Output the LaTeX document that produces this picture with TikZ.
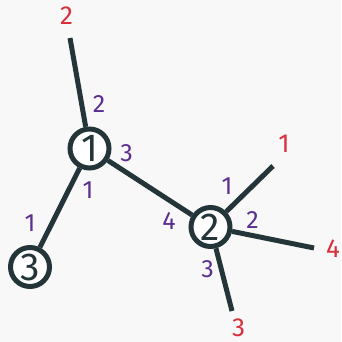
\documentclass[tikz,border=0pt]{standalone}
\usepackage{fontspec}
\setmainfont{Fira Sans}
\definecolor{edgecol}{HTML}{233538}
\definecolor{endcol}{HTML}{D7303B}
\definecolor{portcol}{HTML}{5B2E8F}
\definecolor{bgcol}{HTML}{F8F8F8}
\tikzset{
  vertex/.style={circle, draw=edgecol, line width=5pt, fill=white, minimum size=39pt, inner sep=0pt,
    text=edgecol, font=\fontsize{39}{39}\selectfont},
  link/.style={draw=edgecol, line width=5pt},
  endlbl/.style={text=endcol, font=\fontsize{26}{26}\selectfont, inner sep=0pt},
  portlbl/.style={text=portcol, font=\fontsize{25}{25}\selectfont, inner sep=0pt}
}
\begin{document}
\begin{tikzpicture}[x=1pt, y=-1pt]
  \fill[bgcol] (0,0) rectangle (341,342);
  \useasboundingbox (0,0) rectangle (341,342);

  % vertices
  \node[vertex] (v1) at (89.5,148.5) {1};
  \node[vertex] (v2) at (210.5,227) {2};
  \node[vertex] (v3) at (30,267) {3};

  % free ends of the dangling edges
  \coordinate (a2) at (70,38);
  \coordinate (b1) at (273,166);
  \coordinate (b4) at (314,248);
  \coordinate (b3) at (232,311);

  % edges
  \draw[link] (v1) -- (a2);
  \draw[link] (v1) -- (v2);
  \draw[link] (v1) -- (v3);
  \draw[link] (v2) -- (b1);
  \draw[link] (v2) -- (b4);
  \draw[link] (v2) -- (b3);

  % labels at the free ends
  \node[endlbl] (la2) at (66.5,16) {2};
  \node[endlbl] (lb1) at (284,144) {1};
  \node[endlbl] (lb4) at (333,249) {4};
  \node[endlbl] (lb3) at (238.5,328) {3};

  % port numbers around each vertex
  \node[portlbl] (p12) at (99,104.5) {2};
  \node[portlbl] (p13) at (126.5,153.5) {3};
  \node[portlbl] (p11) at (88,190) {1};
  \node[portlbl] (p31) at (30,223.5) {1};
  \node[portlbl] (p24) at (169,221) {4};
  \node[portlbl] (p21) at (227,186.5) {1};
  \node[portlbl] (p22) at (252.5,220.5) {2};
  \node[portlbl] (p23) at (207.5,269) {3};
\end{tikzpicture}
\end{document}
